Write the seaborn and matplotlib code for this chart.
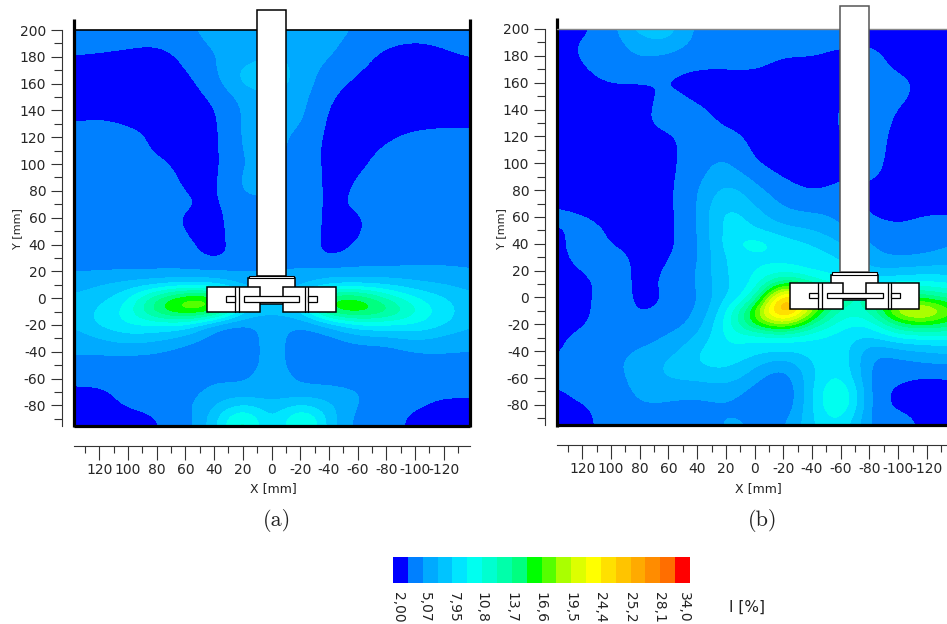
import numpy as np
import matplotlib
matplotlib.use("Agg")
import matplotlib.pyplot as plt
from matplotlib.colors import BoundaryNorm, ListedColormap
from matplotlib.patches import Rectangle
import seaborn as sns

# grid of the measured field, mm (x axis runs backwards like the original)
x_grid = [140, 120, 100, 80, 60, 40, 20, 0, -20, -40, -60, -80, -100, -120, -140]
y_grid = [200, 190, 180, 170, 160, 150, 140, 130, 120, 110, 100, 90, 80, 70, 60, 50, 40, 30, 20, 10,
          0, -10, -20, -30, -40, -50, -60, -70, -80, -90, -100]

# turbulence intensity [%], one row per y_grid entry
intensity_a = [
    [4.3, 4.3, 4.3, 4.3, 4.8, 5.6, 6.0, 6.0, 6.0, 5.8, 4.8, 4.3, 4.3, 4.3, 4.3],
    [4.2, 4.2, 4.0, 3.7, 4.5, 5.4, 6.0, 6.2, 6.2, 5.5, 4.4, 3.8, 3.4, 3.8, 4.2],
    [3.5, 3.3, 3.0, 2.8, 3.9, 5.1, 5.8, 6.5, 6.2, 5.1, 4.2, 3.0, 2.8, 3.2, 3.7],
    [2.8, 2.8, 2.8, 2.8, 3.4, 4.9, 7.0, 7.4, 6.0, 4.5, 3.6, 2.8, 2.8, 2.8, 2.9],
    [2.8, 2.8, 2.8, 2.8, 3.0, 4.4, 7.1, 7.4, 6.0, 4.0, 3.2, 2.8, 2.8, 2.8, 2.8],
    [2.8, 2.8, 2.8, 2.8, 2.8, 3.8, 5.8, 6.4, 5.8, 3.5, 2.9, 2.8, 2.8, 2.8, 2.8],
    [2.8, 2.8, 2.8, 2.8, 2.8, 3.2, 5.5, 6.0, 5.7, 3.1, 2.8, 2.8, 2.8, 2.8, 2.8],
    [3.5, 3.9, 3.2, 2.8, 2.8, 3.0, 5.6, 5.8, 5.4, 2.9, 2.8, 2.8, 2.9, 3.1, 3.0],
    [4.2, 4.3, 4.3, 2.9, 2.8, 2.9, 5.6, 5.8, 4.6, 3.0, 2.8, 3.2, 4.0, 4.2, 4.2],
    [4.3, 4.3, 4.3, 3.2, 2.8, 2.9, 5.5, 5.7, 4.4, 3.0, 2.9, 3.8, 4.3, 4.3, 4.3],
    [4.3, 4.3, 4.3, 3.9, 2.9, 2.9, 5.3, 5.6, 4.4, 3.0, 3.1, 4.2, 4.3, 4.3, 4.3],
    [4.3, 4.3, 4.3, 4.3, 3.1, 2.9, 5.6, 5.8, 4.4, 3.0, 3.5, 4.3, 4.3, 4.3, 4.3],
    [4.3, 4.3, 4.3, 4.3, 3.4, 2.9, 5.6, 5.6, 4.4, 3.0, 3.7, 4.3, 4.3, 4.3, 4.3],
    [4.3, 4.3, 4.3, 4.3, 3.8, 3.0, 4.6, 4.5, 4.4, 3.0, 3.9, 4.3, 5.3, 4.3, 4.3],
    [4.3, 4.3, 4.3, 4.3, 3.2, 3.0, 4.4, 4.4, 4.4, 3.0, 3.3, 4.3, 5.3, 4.3, 4.3],
    [4.3, 4.3, 4.3, 4.3, 3.4, 2.9, 4.4, 4.4, 4.4, 3.0, 3.3, 4.3, 4.3, 4.3, 4.3],
    [4.3, 4.3, 4.3, 4.3, 3.8, 2.8, 4.4, 4.4, 4.4, 2.9, 3.6, 4.3, 4.3, 4.3, 4.3],
    [4.3, 4.3, 4.3, 4.3, 4.3, 2.8, 4.4, 4.4, 4.4, 3.0, 4.3, 4.4, 4.6, 4.6, 4.4],
    [5.0, 5.0, 5.0, 5.0, 5.0, 5.0, 5.0, 5.0, 5.3, 5.6, 5.4, 5.3, 5.4, 5.4, 5.2],
    [5.6, 6.4, 7.0, 7.5, 8.0, 7.6, 6.0, 5.8, 6.0, 7.4, 7.6, 7.6, 6.8, 6.4, 5.8],
    [6.8, 7.4, 9.0, 14.0, 17.5, 17.5, 8.0, 6.0, 8.0, 16.0, 16.0, 12.0, 9.5, 8.0, 6.8],
    [7.0, 8.2, 10.0, 15.5, 18.0, 17.0, 8.0, 6.7, 8.0, 16.0, 17.0, 15.0, 11.0, 8.6, 7.0],
    [6.5, 8.4, 9.6, 9.5, 9.5, 5.4, 4.4, 6.0, 4.6, 7.0, 9.5, 9.5, 9.5, 8.2, 6.5],
    [5.6, 6.5, 7.5, 7.0, 6.0, 4.2, 4.3, 5.8, 4.3, 4.4, 6.0, 6.0, 7.0, 6.0, 5.6],
    [5.3, 5.4, 5.5, 5.2, 4.4, 4.3, 4.3, 5.8, 4.3, 4.3, 4.3, 4.4, 5.2, 5.2, 5.1],
    [4.5, 4.3, 4.3, 4.3, 4.3, 4.3, 4.3, 5.8, 4.3, 4.3, 4.3, 4.3, 4.3, 4.5, 4.4],
    [4.1, 4.2, 4.3, 4.3, 4.3, 4.9, 4.7, 6.0, 4.6, 4.6, 4.3, 4.3, 4.3, 4.3, 4.3],
    [3.1, 3.1, 4.2, 4.3, 4.4, 5.6, 5.6, 5.4, 5.6, 5.5, 5.2, 4.3, 4.2, 3.9, 4.1],
    [2.8, 2.8, 3.8, 3.9, 4.7, 6.4, 8.2, 6.8, 8.2, 6.8, 4.9, 4.3, 3.8, 3.0, 3.0],
    [2.8, 2.8, 2.9, 3.5, 4.3, 7.2, 13.0, 6.1, 13.0, 6.9, 4.4, 4.2, 3.0, 2.8, 2.8],
    [2.8, 2.8, 2.8, 3.4, 4.3, 7.2, 13.0, 6.2, 13.0, 6.8, 4.3, 4.2, 3.0, 2.8, 2.8],
]

# same for panel (b)
intensity_b = [
    [3.0, 3.1, 4.4, 7.5, 7.5, 4.4, 4.3, 4.3, 4.3, 4.3, 4.3, 3.0, 3.0, 3.0, 3.0],
    [3.0, 3.6, 4.3, 6.0, 6.6, 4.3, 4.3, 4.3, 4.3, 4.2, 3.7, 3.4, 3.0, 3.0, 3.0],
    [3.0, 3.6, 4.3, 5.3, 4.9, 4.0, 4.1, 4.2, 3.5, 3.6, 3.0, 4.0, 3.0, 3.0, 3.0],
    [3.0, 3.3, 4.2, 4.3, 3.8, 3.5, 3.5, 3.6, 2.9, 2.9, 3.0, 4.0, 3.3, 3.0, 3.0],
    [3.0, 3.0, 3.6, 3.5, 3.5, 2.9, 2.9, 2.9, 2.9, 2.9, 3.6, 4.2, 3.9, 3.0, 3.0],
    [3.0, 3.0, 3.0, 3.0, 4.0, 3.1, 2.9, 2.9, 2.9, 2.9, 3.2, 4.2, 3.8, 3.0, 3.0],
    [3.0, 3.0, 3.0, 3.0, 4.2, 3.8, 2.9, 2.9, 2.9, 2.9, 3.6, 4.2, 3.4, 3.0, 3.0],
    [3.0, 3.0, 3.0, 3.1, 4.1, 4.3, 3.1, 2.9, 2.9, 2.9, 3.6, 4.2, 3.2, 3.0, 3.0],
    [3.0, 3.0, 3.0, 3.0, 3.2, 4.3, 4.2, 2.9, 2.9, 2.9, 3.5, 4.2, 3.0, 3.0, 3.0],
    [3.0, 3.0, 3.0, 3.0, 3.0, 4.4, 4.9, 3.0, 2.9, 2.9, 3.0, 4.1, 3.0, 3.0, 3.0],
    [3.0, 3.0, 3.0, 3.0, 3.0, 4.5, 5.6, 3.4, 2.9, 2.9, 3.0, 4.0, 3.0, 3.0, 3.0],
    [3.0, 3.0, 3.0, 3.0, 3.0, 4.7, 6.3, 4.6, 3.2, 2.9, 3.4, 3.8, 3.0, 3.0, 3.0],
    [3.0, 3.0, 3.0, 3.0, 3.0, 5.0, 7.4, 5.5, 4.2, 3.2, 4.0, 3.2, 3.0, 3.0, 3.0],
    [3.2, 3.0, 3.0, 3.0, 3.0, 5.0, 8.3, 6.3, 4.7, 4.4, 4.6, 3.0, 3.0, 3.0, 3.0],
    [4.1, 3.6, 3.0, 3.0, 3.0, 4.9, 9.2, 7.2, 5.5, 5.4, 4.8, 3.4, 3.2, 3.6, 3.6],
    [3.0, 4.2, 3.2, 3.0, 3.0, 4.8, 9.0, 8.2, 7.0, 6.6, 5.4, 4.3, 3.6, 4.2, 4.3],
    [3.0, 4.2, 3.4, 3.0, 3.0, 4.8, 8.8, 10.8, 8.7, 8.0, 6.5, 5.0, 4.4, 4.6, 5.2],
    [3.0, 4.0, 4.2, 3.0, 3.3, 4.7, 8.4, 9.0, 9.0, 8.7, 8.0, 5.3, 4.9, 5.2, 5.6],
    [3.0, 3.5, 4.3, 3.0, 3.6, 5.0, 8.2, 9.5, 10.0, 9.0, 9.0, 6.5, 6.8, 7.2, 7.3],
    [3.0, 3.0, 4.3, 3.0, 3.8, 5.0, 8.0, 9.0, 17.0, 12.0, 10.0, 9.0, 10.0, 10.0, 9.0],
    [3.0, 3.0, 4.4, 3.0, 3.6, 4.8, 8.0, 10.5, 28.0, 18.0, 13.0, 12.0, 16.0, 14.5, 13.0],
    [3.0, 3.0, 4.5, 3.1, 4.0, 4.9, 9.0, 17.0, 29.0, 18.0, 11.0, 12.0, 21.0, 22.0, 16.0],
    [3.0, 3.2, 4.6, 3.9, 4.4, 5.5, 10.0, 16.0, 20.0, 13.0, 9.8, 9.0, 15.0, 16.0, 14.0],
    [3.0, 4.0, 4.6, 4.5, 5.3, 6.5, 10.0, 9.5, 10.0, 9.2, 8.7, 7.5, 9.5, 9.6, 10.0],
    [3.1, 4.4, 4.7, 5.2, 5.8, 8.0, 9.5, 8.4, 8.0, 8.5, 9.5, 4.8, 6.0, 6.5, 7.0],
    [3.8, 4.3, 4.9, 5.4, 7.0, 8.0, 8.5, 6.8, 5.0, 8.0, 9.8, 4.4, 4.4, 5.0, 5.0],
    [4.2, 4.3, 4.7, 5.4, 6.8, 6.8, 7.5, 5.6, 3.6, 7.9, 10.5, 4.3, 3.8, 3.2, 3.6],
    [3.0, 4.2, 4.6, 5.3, 5.4, 5.3, 5.8, 4.5, 3.0, 8.0, 12.5, 4.3, 3.0, 3.0, 3.0],
    [3.0, 3.3, 4.3, 5.2, 5.0, 4.8, 5.0, 4.5, 3.2, 8.0, 12.5, 4.3, 3.0, 3.0, 3.0],
    [3.0, 3.0, 4.2, 4.4, 4.4, 4.4, 5.3, 4.9, 4.2, 8.0, 10.5, 4.3, 4.0, 3.0, 3.0],
    [3.0, 3.0, 4.2, 4.3, 4.3, 4.3, 5.4, 5.0, 4.4, 8.0, 9.5, 4.4, 4.3, 3.0, 3.0],
]

# colour band edges [%] and the printed colour bar labels
band_edges = [2.0, 3.5, 5.07, 6.5, 7.95, 9.4, 10.8, 12.25, 13.7, 15.15, 16.6, 18.05, 19.5, 21.0,
              22.4, 23.8, 25.2, 26.6, 28.1, 30.0, 34.0]
band_colors = ["#0000ff", "#0080ff", "#00aaff", "#00c4ff", "#00e5ff", "#00fff0", "#00ffd0", "#00ffaa",
               "#00ff80", "#00ff00", "#55ff00", "#aaff00", "#ddff00", "#ffff00", "#ffe000", "#ffc400",
               "#ffaa00", "#ff8c00", "#ff6e00", "#ff0000"]
bar_labels = ["2,00", "5,07", "7,95", "10,8", "13,7", "16,6", "19,5", "24,4", "25,2", "28,1", "34,0"]
bar_label_px = [398, 425, 454, 481, 511, 540, 570, 600, 630, 659, 684]

x_ticks = [120, 100, 80, 60, 40, 20, 0, -20, -40, -60, -80, -100, -120]
x_minor = [130, 110, 90, 70, 50, 30, 10, -10, -30, -50, -70, -90, -110, -130]
y_ticks = [200, 180, 160, 140, 120, 100, 80, 60, 40, 20, 0, -20, -40, -60, -80]
y_minor = [190, 170, 150, 130, 110, 90, 70, 50, 30, 10, -10, -30, -50, -70, -90]

W, H = 947, 624

sns.set_style("ticks")
plt.rcParams["font.family"] = "DejaVu Sans"
plt.rcParams["text.color"] = "#222222"

palette = sns.color_palette(band_colors)
cmap = ListedColormap(palette)
norm = BoundaryNorm(band_edges, len(palette))


def px_axes(fig, left, top, right, bottom):
    return fig.add_axes([left / W, 1 - bottom / H, (right - left) / W, (bottom - top) / H])


def draw_field(ax, values, xlim):
    dy = 5
    dx = 10
    ax.imshow(np.array(values), cmap=cmap, norm=norm, aspect="auto", interpolation="bicubic",
              interpolation_stage="data",
              extent=(x_grid[0] + dx, x_grid[-1] - dx, y_grid[-1] - dy, y_grid[0] + dy))
    ax.set_xlim(*xlim)
    ax.set_ylim(-95, 200)
    ax.set_xticks(x_ticks)
    ax.set_xticklabels([str(v) for v in x_ticks], fontsize=7.3, color="#222222")
    ax.set_xticks(x_minor, minor=True)
    ax.set_yticks(y_ticks)
    ax.set_yticklabels([str(v) for v in y_ticks], fontsize=7.3, color="#222222")
    ax.set_yticks(y_minor, minor=True)
    ax.tick_params(axis="x", which="major", length=10, width=0.8, pad=2.5, color="#333333")
    ax.tick_params(axis="x", which="minor", length=5, width=0.8, color="#333333")
    ax.tick_params(axis="y", which="major", length=8, width=0.8, pad=3, color="#333333")
    ax.tick_params(axis="y", which="minor", length=5.5, width=0.8, color="#333333")
    sns.despine(ax=ax, offset={"left": 8.6, "bottom": 14.4})
    for s in ["left", "bottom"]:
        ax.spines[s].set_linewidth(0.8)
        ax.spines[s].set_color("#333333")


def draw_impeller(ax, cx, dy, shaft_edge="black"):
    def box(x0, x1, y0, y1, ec="black", lw=1.1, z=5):
        ax.add_patch(Rectangle((cx + x0, y0 + dy), x1 - x0, y1 - y0, fc="white", ec=ec, lw=lw,
                               zorder=z, clip_on=False))

    box(-10.2, 10.2, 16.8, 215, ec=shaft_edge)
    box(-16.2, 16.2, -4.1, 15.0)
    box(-15.5, 15.5, 15.0, 16.8, lw=0.8)
    for sign in (-1, 1):
        a, b = sorted((sign * 8.2, sign * 45))
        box(a, b, -10.4, 8.6, z=6)
        for off in (23, 25.4):
            ax.plot([cx + sign * off] * 2, [-10.4 + dy, 8.6 + dy], color="black", lw=0.9, zorder=7)
        a, b = sorted((sign * 25.4, sign * 31.7))
        box(a, b, -2.6, 1.3, lw=0.9, z=7)
    box(-19.5, 19.5, -2.6, 1.3, lw=0.9, z=8)


def draw_frame(ax, right=True, top_color="black", top_lw=1.2, rise=0.027):
    tr = ax.transAxes
    kw = dict(color="black", lw=2.3, transform=tr, clip_on=False, zorder=4, solid_capstyle="butt")
    ax.plot([0, 0], [-0.005, 1 + rise], **kw)
    if right:
        ax.plot([1, 1], [-0.005, 1 + rise], **kw)
    ax.plot([0, 1], [0, 0], **kw)
    ax.plot([0, 1], [1, 1], color=top_color, lw=top_lw, transform=tr, clip_on=False, zorder=4)


fig = plt.figure(figsize=(W / 100, H / 100), dpi=100)

ax_a = px_axes(fig, 73.5, 30, 469.5, 425.5)
draw_field(ax_a, intensity_a, (138, -138))
draw_frame(ax_a)
draw_impeller(ax_a, 0, 0)

ax_b = px_axes(fig, 556.5, 29, 947, 425)
draw_field(ax_b, intensity_b, (138, -134))
draw_frame(ax_b, right=False, top_color="#888888", top_lw=1.0)
draw_impeller(ax_b, -69.6, 2, shaft_edge="#555555")

# axis names and sub captions
for x_px, y_px, label in [(273, 489, "a"), (758, 489, "b")]:
    fig.text(x_px / W, 1 - y_px / H, "X [mm]", ha="center", va="center", fontsize=9)
    fig.text((x_px + (4 if label == "a" else 5)) / W, 1 - 520 / H, f"({label})", ha="center", va="center",
             fontsize=16, family="cmr10")
for x_px in (17, 501):
    fig.text(x_px / W, 1 - 229 / H, "Y [mm]", ha="center", va="center", rotation=90, fontsize=8)

# colour bar as a one row heatmap
cax = px_axes(fig, 393, 557, 690, 583)
sns.heatmap(np.arange(len(palette)).reshape(1, -1), cmap=palette, cbar=False, xticklabels=False,
            yticklabels=False, ax=cax)
for x_px, lab in zip(bar_label_px, bar_labels):
    fig.text(x_px / W, 1 - 592 / H, lab, rotation=270, ha="center", va="top", fontsize=10)
fig.text(747 / W, 1 - 607 / H, "I [%]", ha="center", va="center", fontsize=11)

fig.savefig("out.png", dpi=100)
